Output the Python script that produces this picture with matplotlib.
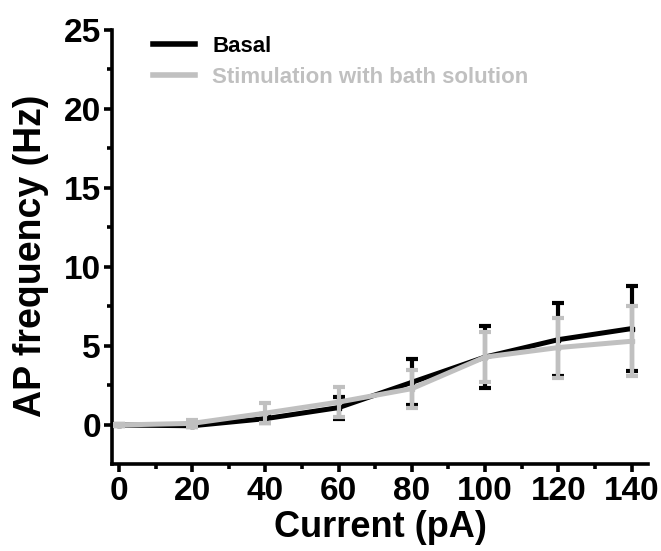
import matplotlib
matplotlib.use("Agg")
import matplotlib.pyplot as plt
from matplotlib.ticker import MultipleLocator
from matplotlib.lines import Line2D

plt.rcParams['font.family'] = ['Liberation Sans', 'DejaVu Sans']
plt.rcParams['font.weight'] = 'bold'

current = [0, 20, 40, 60, 80, 100, 120, 140]
basal = [0.0, -0.05, 0.4, 1.1, 2.7, 4.3, 5.4, 6.1]
basal_err = [0.05, 0.1, 0.3, 0.7, 1.45, 1.95, 2.3, 2.7]
stim = [0.0, 0.1, 0.75, 1.45, 2.3, 4.3, 4.9, 5.3]
stim_err = [0.05, 0.2, 0.65, 0.95, 1.2, 1.6, 1.9, 2.2]
xticks = [0, 20, 40, 60, 80, 100, 120, 140]
yticks = [0, 5, 10, 15, 20, 25]
labels = ['Basal', 'Stimulation with bath solution']

black = '#000000'
gray = '#C0C0C0'

fig = plt.figure(figsize=(6.61, 5.51), dpi=100)
ax = fig.add_axes([112/661, 1-464/551, (648-112)/661, (464-30)/551])

ax.errorbar(current, basal, yerr=basal_err, color=black, lw=3.6, elinewidth=3,
            capsize=4.5, capthick=3, marker='s', ms=3, label=labels[0], zorder=2)
ax.errorbar(current, stim, yerr=stim_err, color=gray, lw=3.6, elinewidth=3,
            capsize=4.5, capthick=3, marker='s', ms=3, label=labels[1], zorder=3)

ax.set_xlim(-1.9, 144.5)
ax.set_ylim(-2.47, 25)
ax.set_xticks(xticks)
ax.set_yticks(yticks)
ax.xaxis.set_minor_locator(MultipleLocator(10))
ax.yaxis.set_minor_locator(MultipleLocator(2.5))
for s in ['top', 'right']:
    ax.spines[s].set_visible(False)
for s in ['left', 'bottom']:
    ax.spines[s].set_linewidth(2.6)
ax.tick_params(which='major', direction='out', length=6, width=2.6, labelsize=24)
ax.tick_params(which='minor', direction='out', length=3.5, width=2.6)
ax.tick_params(axis='x', which='major', pad=3)
ax.tick_params(axis='y', which='major', pad=2)
for lab in ax.get_xticklabels() + ax.get_yticklabels():
    lab.set_fontweight('bold')

ax.set_xlabel('Current (pA)', fontsize=26, fontweight='bold', labelpad=2)
ax.set_ylabel('AP frequency (Hz)', fontsize=27, fontweight='bold')
ax.yaxis.set_label_coords(-0.118, 0.48)

handles = [Line2D([], [], color=black, lw=4), Line2D([], [], color=gray, lw=4)]
leg = ax.legend(handles, labels, loc='upper left',
                bbox_to_anchor=(0.040, 1.033), frameon=False, prop={'size': 16, 'weight': 'bold'},
                handlelength=1.85, handletextpad=0.8, labelspacing=0.45)
leg.get_texts()[1].set_color(gray)

fig.savefig('out.png', dpi=100)
